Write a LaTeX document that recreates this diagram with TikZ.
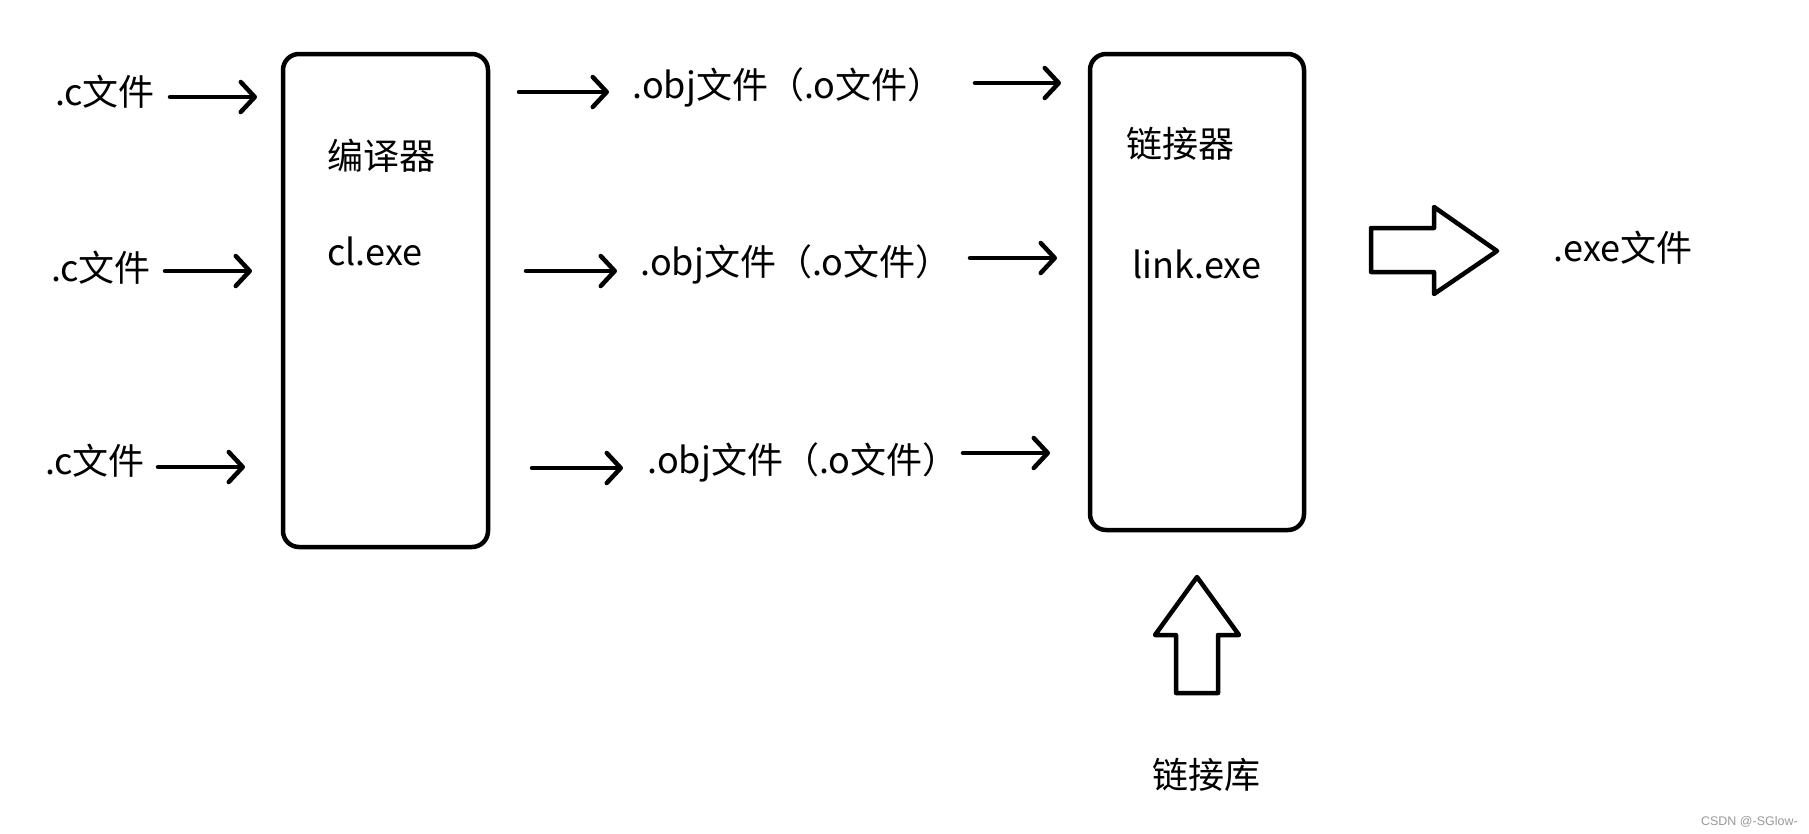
\documentclass[tikz,border=0pt]{standalone}
\usepackage{fontspec}
\setmainfont{Noto Sans CJK SC}
\newfontfamily\wmfont{Liberation Sans}
\usetikzlibrary{arrows.meta}
\begin{document}
\begin{tikzpicture}[x=1pt,y=-1pt,
  lbl/.style={inner sep=0pt, font=\fontsize{36}{40}\selectfont, anchor=center},
  lblw/.style={lbl, anchor=west},
  proc/.style={draw, line width=4.5pt, rounded corners=16pt, inner sep=0pt},
  flow/.style={line width=4.5pt, line cap=round, -{Straight Barb[length=14pt,width=30pt,line cap=round,line join=round]}},
  block/.style={draw, line width=4.5pt, line join=round, fill=white}
]
\useasboundingbox (0,0) rectangle (1809,833);
% boxes
\node[proc, minimum width=205pt, minimum height=493pt] (comp) at (385.5,300.5) {};
\node[proc, minimum width=214pt, minimum height=476pt] (link) at (1197,292) {};
% box labels
\node[lblw] (compname) at (327,156) {编译器};
\node[lblw] (compexe) at (327,251) {cl.exe};
\node[lblw] (linkname) at (1126,144) {链接器};
\node[lblw] (linkexe) at (1132,264) {link.exe};
% source files
\node[lbl] (c1) at (105,92) {.c文件};
\node[lbl] (c2) at (101,268) {.c文件};
\node[lbl] (c3) at (95,461) {.c文件};
% object files
\node[lbl] (o1) at (788,87) {.obj文件（.o文件）};
\node[lbl] (o2) at (796,264) {.obj文件（.o文件）};
\node[lbl] (o3) at (803,462) {.obj文件（.o文件）};
% outputs
\node[lbl] (exe) at (1623,248) {.exe文件};
\node[lbl] (lib) at (1206,775) {链接库};
% arrow coordinates
\coordinate (a1s) at (170,97);  \coordinate (a1e) at (257,97);
\coordinate (a2s) at (165,271); \coordinate (a2e) at (252,271);
\coordinate (a3s) at (158,467); \coordinate (a3e) at (245,467);
\coordinate (b1s) at (519,92);  \coordinate (b1e) at (609,92);
\coordinate (b2s) at (526,271); \coordinate (b2e) at (617,271);
\coordinate (b3s) at (532,468); \coordinate (b3e) at (623,468);
\coordinate (d1s) at (975,83);  \coordinate (d1e) at (1061,83);
\coordinate (d2s) at (970,258); \coordinate (d2e) at (1057,258);
\coordinate (d3s) at (963,453); \coordinate (d3e) at (1050,453);
\draw[flow] (a1s) -- (a1e);
\draw[flow] (a2s) -- (a2e);
\draw[flow] (a3s) -- (a3e);
\draw[flow] (b1s) -- (b1e);
\draw[flow] (b2s) -- (b2e);
\draw[flow] (b3s) -- (b3e);
\draw[flow] (d1s) -- (d1e);
\draw[flow] (d2s) -- (d2e);
\draw[flow] (d3s) -- (d3e);
% block arrow to exe
\draw[block] (1371,228) -- (1434,228) -- (1434,207) -- (1497,251) -- (1434,294) -- (1434,272) -- (1371,272) -- cycle;
% block arrow up from library
\draw[block] (1176,693) -- (1176,635) -- (1155,635) -- (1197,577) -- (1239,635) -- (1218,635) -- (1218,693) -- cycle;
% watermark
\node[inner sep=0pt, anchor=east, text=gray!80, font=\wmfont\fontsize{12.5}{14}\selectfont] (wm) at (1798,822) {CSDN @-SGlow-};
\end{tikzpicture}
\end{document}
